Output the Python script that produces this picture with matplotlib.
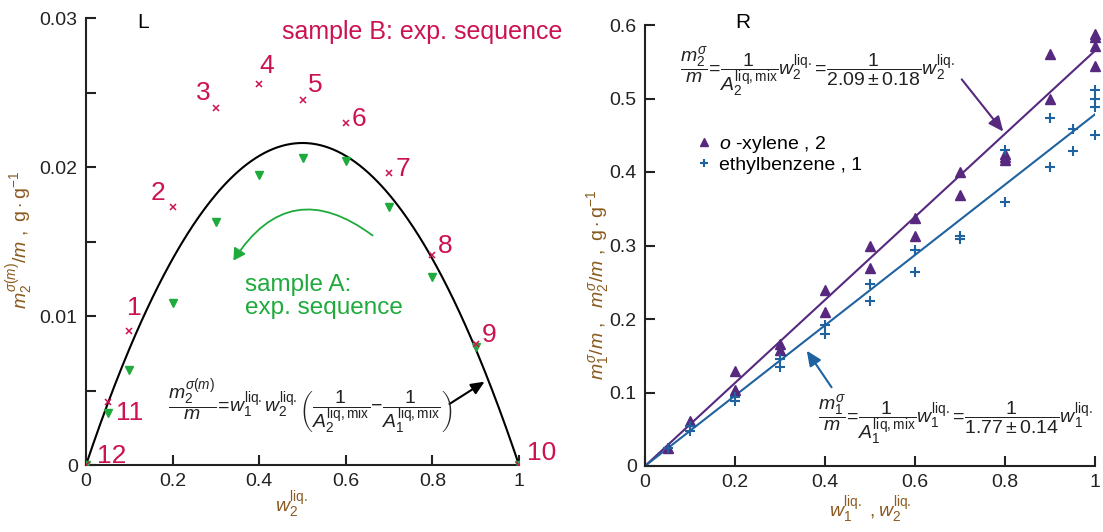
import numpy as np
import matplotlib
matplotlib.use("Agg")
import matplotlib.pyplot as plt
from matplotlib.patches import FancyArrowPatch

plt.rcParams['font.family'] = ['Liberation Sans', 'DejaVu Sans']
plt.rcParams['mathtext.fontset'] = 'custom'
plt.rcParams['mathtext.rm'] = 'Liberation Sans'
plt.rcParams['mathtext.it'] = 'Liberation Sans:italic'
plt.rcParams['mathtext.bf'] = 'Liberation Sans:bold'

# ---------------- data ----------------
# Left panel: sample B (crosses) numbered sequence
b_w2 = [0.10, 0.20, 0.30, 0.40, 0.50, 0.60, 0.70, 0.80, 0.90, 1.00, 0.05, 0.00]
b_m = [0.0090, 0.0173, 0.0240, 0.0256, 0.0245, 0.0230, 0.0196, 0.0141, 0.0081, 0.0, 0.0042, 0.0]
b_labels = ['1', '2', '3', '4', '5', '6', '7', '8', '9', '10', '11', '12']
# Left panel: sample A (down triangles)
a_w2 = [0.00, 0.05, 0.10, 0.20, 0.30, 0.40, 0.50, 0.60, 0.70, 0.80, 0.90, 1.00]
a_m = [0.0, 0.0035, 0.0064, 0.0109, 0.0163, 0.0195, 0.0206, 0.0204, 0.0173, 0.0126, 0.0079, 0.0]

# Right panel fit parameters (slopes as drawn)
A_purple = 1.77
A_blue = 2.09

# Right panel: o-xylene (triangles)
ox_w = [0.05, 0.10, 0.20, 0.20, 0.30, 0.30, 0.40, 0.40, 0.50, 0.50, 0.60, 0.60,
        0.70, 0.70, 0.80, 0.80, 0.80, 0.90, 0.90, 1.00, 1.00, 1.00, 1.00]
ox_m = [0.025, 0.061, 0.129, 0.103, 0.166, 0.158, 0.239, 0.209, 0.270, 0.299, 0.338, 0.313,
        0.400, 0.369, 0.425, 0.421, 0.416, 0.561, 0.500, 0.588, 0.584, 0.572, 0.544]
# Right panel: ethylbenzene (pluses)
eb_w = [0.05, 0.10, 0.10, 0.20, 0.20, 0.30, 0.30, 0.40, 0.40, 0.50, 0.50, 0.60, 0.60,
        0.70, 0.70, 0.80, 0.80, 0.90, 0.90, 0.95, 0.95, 1.00, 1.00, 1.00, 1.00]
eb_m = [0.0245, 0.0545, 0.048, 0.094, 0.089, 0.145, 0.135, 0.192, 0.179, 0.247, 0.224, 0.2645, 0.294,
        0.313, 0.309, 0.430, 0.359, 0.473, 0.407, 0.459, 0.428, 0.511, 0.4995, 0.488, 0.450]

# ---------------- colours ----------------
RED = '#cc1250'
GREEN = '#1faa3c'
PURPLE = '#56287e'
BLUE = '#1f62a0'
BROWN = '#8a5a20'
TICKC = '#222222'

fig = plt.figure(figsize=(11.03, 5.32), dpi=100)
axL = fig.add_axes([86/1103, 1-465/532, 433/1103, (465-18.3)/532])
axR = fig.add_axes([645/1103, 1-466/532, 450/1103, (466-25)/532])

for ax in (axL, axR):
    for s in ('top', 'right'):
        ax.spines[s].set_visible(False)
    for s in ('left', 'bottom'):
        ax.spines[s].set_linewidth(1.5)
        ax.spines[s].set_color('#222222')
    ax.tick_params(direction='in', length=7, width=1.5, labelsize=14, colors='#222222',
                   labelcolor=TICKC, pad=6)
    ax.tick_params(which='minor', direction='in', length=7, width=1.5, colors='#222222')

# ---------------- left ----------------
w = np.linspace(0, 1, 300)
c = 1/A_purple - 1/A_blue
axL.plot(w, c*w*(1-w), color='black', lw=1.5, zorder=2)
axL.plot(a_w2, a_m, linestyle='none', marker='v', color=GREEN, ms=6, zorder=3)
axL.plot(b_w2, b_m, linestyle='none', marker='x', color=RED, ms=5, mew=1.1, zorder=4)
axL.set_xlim(0, 1)
axL.set_ylim(0, 0.03)
axL.set_xticks([0, 0.2, 0.4, 0.6, 0.8, 1.0])
axL.set_xticklabels(['0', '0.2', '0.4', '0.6', '0.8', '1'])
axL.set_yticks([0, 0.01, 0.02, 0.03])
axL.set_yticklabels(['0', '0.01', '0.02', '0.03'])
axL.set_yticks([0.005, 0.015, 0.025], minor=True)

# number labels offsets (points)
offs = {'1': (-2, 8), '2': (-16, 2), '3': (-14, 2), '4': (0, 4), '5': (4, 2), '6': (4, -6),
        '7': (5, -6), '8': (4, -2), '9': (4, -2), '10': (6, 0), '11': (6, -16), '12': (8, -2)}
for xx, yy, lab in zip(b_w2, b_m, b_labels):
    dx, dy = offs[lab]
    axL.annotate(lab, (xx, yy), xytext=(dx, dy), textcoords='offset points',
                 color=RED, fontsize=19, ha='left', va='bottom', annotation_clip=False)

fig.text(282/1103, 1-32/532, 'sample B: exp. sequence', color=RED, fontsize=18,
         ha='left', va='center')
fig.text(137/1103, 1-22/532, 'L', color='black', fontsize=15, ha='left', va='center')
axL.text(0.367, 0.0128, 'sample A:\nexp. sequence', color=GREEN, fontsize=17.5,
         ha='left', va='top', linespacing=1.05)
arr = FancyArrowPatch((0.667, 0.0153), (0.337, 0.01357), connectionstyle='arc3,rad=0.55',
                      arrowstyle='-|>,head_length=7,head_width=4', color=GREEN, lw=1.3,
                      mutation_scale=1)
axL.add_patch(arr)
fig.text(168/1103, 1-407/532,
         r'$\dfrac{m_2^{\sigma(m)}}{m}\!=\!w_1^{\mathrm{liq.}}w_2^{\mathrm{liq.}}'
         r'\left(\dfrac{1}{A_2^{\mathrm{liq,mix}}}\!-\!\dfrac{1}{A_1^{\mathrm{liq,mix}}}\right)$',
         fontsize=14, ha='left', va='center', color='#222222')
axL.annotate('', xy=(0.926, 0.0057), xytext=(0.834, 0.0040),
             arrowprops=dict(arrowstyle='-|>,head_length=0.8,head_width=0.35', color='black', lw=1.5))

fig.text(20/1103, 1-240/532, r'$m_2^{\sigma(m)}/m\ ,\ \mathrm{g\cdot g^{-1}}$', rotation=90,
         color=BROWN, fontsize=14, ha='center', va='center')
fig.text(292/1103, 1-505/532, r'$w_2^{\mathrm{liq.}}$', color=BROWN, fontsize=14,
         ha='center', va='center')

# ---------------- right ----------------
wr = np.array([0.0, 1.0])
axR.plot(wr, wr/A_purple, color=PURPLE, lw=1.5, zorder=2)
axR.plot(wr, wr/A_blue, color=BLUE, lw=1.5, zorder=2)
axR.plot(ox_w, ox_m, linestyle='none', marker='^', color=PURPLE, ms=7, zorder=3,
         label=r'$o$ -xylene , 2', clip_on=False)
axR.plot(eb_w, eb_m, linestyle='none', marker='+', color=BLUE, ms=7, mew=1.5, zorder=4,
         label='ethylbenzene , 1', clip_on=False)
axR.set_xlim(0, 1)
axR.set_ylim(0, 0.6)
axR.set_xticks([0, 0.2, 0.4, 0.6, 0.8, 1.0])
axR.set_xticklabels(['0', '0.2', '0.4', '0.6', '0.8', '1'])
axR.set_yticks([0, 0.1, 0.2, 0.3, 0.4, 0.5, 0.6])
axR.set_yticklabels(['0', '0.1', '0.2', '0.3', '0.4', '0.5', '0.6'])
leg = axR.legend(loc='upper left', bbox_to_anchor=(0.10, 0.77), frameon=False, fontsize=14,
                 handlelength=0.6, handletextpad=0.5, labelspacing=0.05, markerscale=0.8,
                 borderaxespad=0)

fig.text(743/1103, 1-22/532, 'R', color='black', fontsize=15, ha='center', va='center')
fig.text(680/1103, 1-72/532,
         r'$\dfrac{m_2^{\sigma}}{m}\!=\!\dfrac{1}{A_2^{\mathrm{liq,mix}}}w_2^{\mathrm{liq.}}\!=\!'
         r'\dfrac{1}{2.09\pm0.18}w_2^{\mathrm{liq.}}$',
         fontsize=14, ha='left', va='center', color='#222222')
fig.text(818/1103, 1-420/532,
         r'$\dfrac{m_1^{\sigma}}{m}\!=\!\dfrac{1}{A_1^{\mathrm{liq,mix}}}w_1^{\mathrm{liq.}}\!=\!'
         r'\dfrac{1}{1.77\pm0.14}w_1^{\mathrm{liq.}}$',
         fontsize=14, ha='left', va='center', color='#222222')
axR.annotate('', xy=(0.80, 0.452), xytext=(0.70, 0.529),
             arrowprops=dict(arrowstyle='-|>,head_length=0.9,head_width=0.4', color=PURPLE, lw=1.5))
axR.annotate('', xy=(0.356, 0.160), xytext=(0.418, 0.104),
             arrowprops=dict(arrowstyle='-|>,head_length=0.9,head_width=0.4', color=BLUE, lw=1.5))

fig.text(598/1103, 1-285/532,
         r'$m_1^{\sigma}/m\ ,\ \ m_2^{\sigma}/m\ ,\ \mathrm{g\cdot g^{-1}}$', rotation=90,
         color=BROWN, fontsize=14, ha='center', va='center')
fig.text(870/1103, 1-510/532, r'$w_1^{\mathrm{liq.}}\ ,w_2^{\mathrm{liq.}}$', color=BROWN,
         fontsize=14, ha='center', va='center')

fig.savefig('out.png', dpi=100)
